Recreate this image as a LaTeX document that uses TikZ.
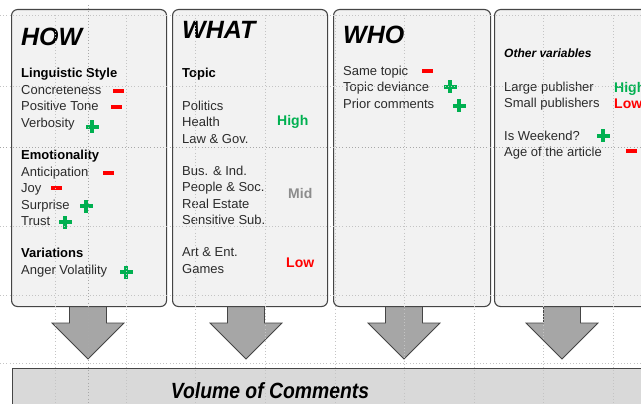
\documentclass[tikz,border=0pt]{standalone}
\usepackage{fontspec}
\setmainfont{Liberation Sans}
\newfontfamily\narrowfont[FakeStretch=0.88]{Liberation Sans}
\usetikzlibrary{calc}

\definecolor{panelfill}{HTML}{F2F2F2}
\definecolor{panelline}{HTML}{454545}
\definecolor{arrowfill}{HTML}{A6A6A6}
\definecolor{barfill}{HTML}{D9D9D9}
\definecolor{posgreen}{HTML}{00B050}
\definecolor{negred}{HTML}{FF0000}
\definecolor{midgray}{HTML}{8C8C8C}
\definecolor{bodytext}{HTML}{2B2B2B}
\definecolor{gridgray}{HTML}{C4C4C4}
\definecolor{guidegray}{HTML}{A8A8A8}

\tikzset{
  panel/.style={draw=panelline, fill=panelfill, line width=1.1pt, rounded corners=6pt,
    minimum width=155pt, minimum height=297pt, anchor=north west, inner sep=0pt},
  item/.style={anchor=base west, inner sep=0pt, font=\fontsize{13}{15}\selectfont, text=bodytext},
  subhead/.style={anchor=base west, inner sep=0pt, font=\fontsize{13}{15}\selectfont\bfseries, text=black},
  heading/.style={anchor=base west, inner sep=0pt, font=\fontsize{25}{28}\selectfont\bfseries\itshape},
  level/.style={anchor=base west, inner sep=0pt, font=\fontsize{14}{16}\selectfont\bfseries},
  blockarrow/.style={draw=panelline, fill=arrowfill, line width=0.8pt, line join=miter},
  bar/.style={draw=panelline, fill=barfill, line width=1pt, anchor=north west,
    minimum width=650pt, minimum height=60pt, inner sep=0pt},
  gridline/.style={gridgray, line width=0.5pt, dash pattern=on 0.7pt off 2.5pt},
  guideline/.style={guidegray, line width=0.5pt, dash pattern=on 0.7pt off 2.5pt},
  pics/plussign/.style={code={
    \fill[posgreen] (-6.5,-2) rectangle (6.5,2);
    \fill[posgreen] (-2,-6.5) rectangle (2,6.5);}},
  pics/minussign/.style={code={
    \fill[negred] (-5.5,-2) rectangle (5.5,2);}},
}

\begin{document}
\begin{tikzpicture}[x=1pt,y=-1pt]
\clip (0,0) rectangle (641,404);
\fill[white] (0,0) rectangle (641,404);

% block arrows from each panel down to the bar
\foreach \cx/\nm in {88/a1,246/a2,404/a3,562/a4}{
  \coordinate (\nm top) at (\cx,300);
  \coordinate (\nm tip) at (\cx,359);
  \draw[blockarrow] ($(\nm top)+(-18.5,0)$) -- ($(\nm top)+(-18.5,23)$) -- ($(\nm top)+(-36,23)$)
    -- (\nm tip) -- ($(\nm top)+(36,23)$) -- ($(\nm top)+(18.5,23)$) -- ($(\nm top)+(18.5,0)$);
}

% the four panels
\node[panel] (how)   at (11,9)  {};
\node[panel] (what)  at (172,9) {};
\node[panel, minimum width=157pt] (who) at (333,9) {};
\node[panel] (other) at (494,9) {};

% bottom bar
\node[bar] (bar) at (12,368) {};
\node[anchor=base, inner sep=0pt, font=\narrowfont\fontsize{22}{24}\selectfont\bfseries\itshape]
  (vol) at (270,398) {Volume of Comments};

% HOW column
\node[heading] (howt) at (21,46) {HOW};
\node[subhead] (ls)   at (21,78)   {Linguistic Style};
\node[item] (conc)    at (21,94.5) {Concreteness};
\node[item] (pos)     at (21,111)  {Positive Tone};
\node[item] (verb)    at (21,127.5){Verbosity};
\node[subhead] (emo)  at (21,159.5){Emotionality};
\node[item] (antic)   at (21,176)  {Anticipation};
\node[item] (joy)     at (21,192.5){Joy};
\node[item] (surp)    at (21,209)  {Surprise};
\node[item] (trust)   at (21,225.5){Trust};
\node[subhead] (var)  at (21,257.5){Variations};
\node[item] (anger)   at (21,274)  {Anger Volatility};
\pic at (118,91)  {minussign};
\pic at (116,107) {minussign};
\pic at (92,127)  {plussign};
\pic at (108,173) {minussign};
\pic at (56,188)  {minussign};
\pic at (86,206)  {plussign};
\pic at (65,222)  {plussign};
\pic at (126,272) {plussign};

% WHAT column
\node[heading] (whatt) at (182,39) {WHAT};
\node[subhead] (topic) at (182,77.5) {Topic};
\node[item] (pol)   at (182,110.5) {Politics};
\node[item] (hea)   at (182,127)   {Health};
\node[item] (law)   at (182,143.5) {Law \& Gov.};
\node[item] (bus)   at (182,175.5) {Bus. \& Ind.};
\node[item] (peo)   at (182,192)   {People \& Soc.};
\node[item] (real)  at (182,208.5) {Real Estate};
\node[item] (sens)  at (182,225)   {Sensitive Sub.};
\node[item] (art)   at (182,256.5) {Art \& Ent.};
\node[item] (games) at (182,273)   {Games};
\node[level, text=posgreen] (high1) at (277,126) {High};
\node[level, text=midgray]  (mid1)  at (288,198) {Mid};
\node[level, text=negred]   (low1)  at (286,267) {Low};

% WHO column
\node[heading] (whot) at (343,44) {WHO};
\node[item] (same)  at (343,75.5)  {Same topic};
\node[item] (dev)   at (343,92)    {Topic deviance};
\node[item] (prior) at (343,108.5) {Prior comments};
\pic at (427,71)  {minussign};
\pic at (450,87)  {plussign};
\pic at (459,106) {plussign};

% other variables column
\node[anchor=base west, inner sep=0pt, font=\fontsize{12}{14}\selectfont\bfseries\itshape]
  (othert) at (504,58) {Other variables};
\node[item] (large) at (504,91.5) {Large publisher};
\node[item] (small) at (504,108)  {Small publishers};
\node[item] (wkend) at (504,140.5){Is Weekend?};
\node[item] (age)   at (504,157)  {Age of the article};
\node[level, text=posgreen] (high2) at (614,92.5) {High};
\node[level, text=negred]   (low2)  at (614,109)  {Low};
\pic at (603,136) {plussign};
\pic at (631,151) {minussign};

% dotted layout grid over everything
\foreach \gx in {55,126,195,265,335,404,474,543,613}
  \draw[gridline] (\gx,15) -- (\gx,404);
\draw[guideline] (88,5) -- (88,404);
\foreach \gy in {15,86,226,295,363}
  \draw[gridline] (0,\gy) -- (641,\gy);
\draw[guideline] (0,147) -- (641,147);
\end{tikzpicture}
\end{document}
